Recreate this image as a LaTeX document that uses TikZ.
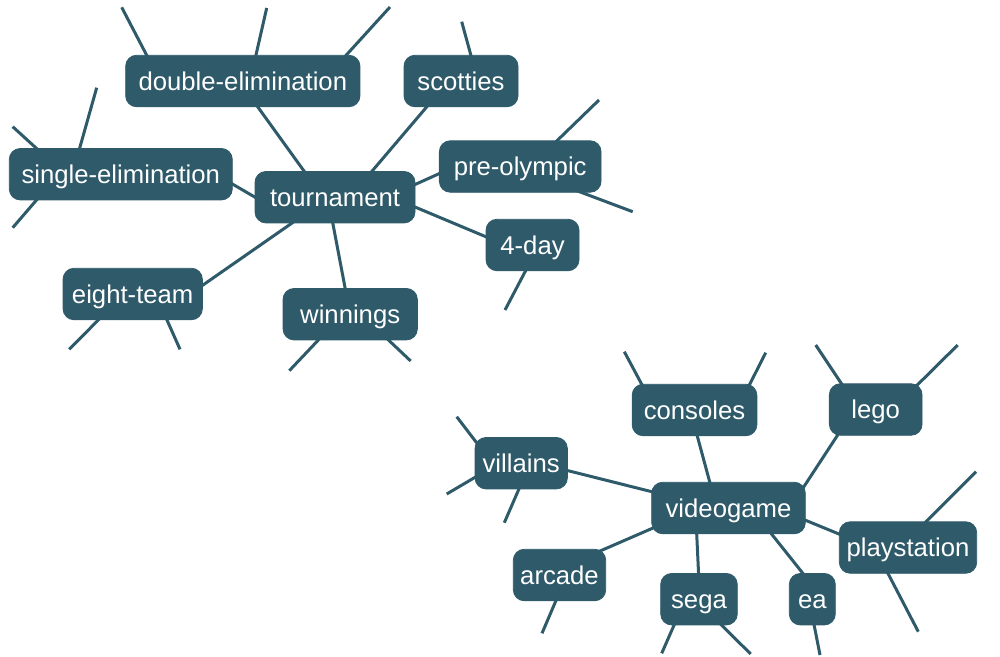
\documentclass[tikz,border=0pt]{standalone}
\usepackage{fontspec}
\setmainfont{Liberation Sans}
\usetikzlibrary{backgrounds}
\definecolor{teal}{RGB}{46,90,106}
\tikzset{
  word/.style={draw=teal, fill=teal, text=white, rounded corners=11pt, line width=0.8pt,
    minimum height=51.5pt, inner sep=0pt, outer sep=0pt, text height=18.4pt, text depth=0pt,
    font=\fontsize{25.7}{30}\selectfont},
  link/.style={draw=teal, line width=3pt, shorten <=-8pt, shorten >=-8pt},
  stub/.style={draw=teal, line width=3pt, shorten <=-8pt}
}
\begin{document}
\begin{tikzpicture}[x=1pt,y=-1pt]
\useasboundingbox (0,0) rectangle (1000,656);
% top cluster
\node[word, minimum width=160pt]   (T)  at (335,197.2) {tournament};
\node[word, minimum width=234.3pt] (DE) at (242.8,81) {double-elimination};
\node[word, minimum width=114pt]   (SC) at (461,81) {scotties};
\node[word, minimum width=223pt]   (SE) at (120.8,174.2) {single-elimination};
\node[word, minimum width=161.7pt] (PO) at (520.2,166.5) {pre-olympic};
\node[word, minimum width=93pt]    (FD) at (532.5,245) {4-day};
\node[word, minimum width=139.3pt] (ET) at (132.7,294) {eight-team};
\node[word, minimum width=134.3pt] (W)  at (350.2,314.2) {winnings};
% bottom cluster
\node[word, minimum width=153.6pt] (VG) at (728.5,508) {videogame};
\node[word, minimum width=124.7pt] (CO) at (694.5,410) {consoles};
\node[word, minimum width=92.7pt]  (LE) at (875.7,409.5) {lego};
\node[word, minimum width=92.3pt]  (VI) at (521.2,463.2) {villains};
\node[word, minimum width=92.4pt]  (AR) at (559.5,575) {arcade};
\node[word, minimum width=76.6pt]  (SG) at (699,599.2) {sega};
\node[word, minimum width=46pt]    (EA) at (812.3,599.2) {ea};
\node[word, minimum width=137.4pt] (PS) at (908,547.5) {playstation};
% free ends
\coordinate (de1) at (121.7,7.3);
\coordinate (de2) at (266.7,8);
\coordinate (de3) at (390,7);
\coordinate (sc1) at (461.7,21.7);
\coordinate (se1) at (12.7,126.7);
\coordinate (se2) at (96.7,87.7);
\coordinate (se3) at (12.7,227.7);
\coordinate (po1) at (599,100);
\coordinate (po2) at (632.7,211.7);
\coordinate (fd1) at (505,310);
\coordinate (et1) at (69.3,349.3);
\coordinate (et2) at (180,349.3);
\coordinate (w1) at (289.3,370.7);
\coordinate (w2) at (410.7,361);
\coordinate (co1) at (624.3,351.7);
\coordinate (co2) at (765.7,352.7);
\coordinate (le1) at (815.7,345);
\coordinate (le2) at (957.7,345);
\coordinate (vi1) at (456.7,416.7);
\coordinate (vi2) at (446.7,494);
\coordinate (vi3) at (504.3,522.7);
\coordinate (ar1) at (542,633.3);
\coordinate (sg1) at (661.7,653.3);
\coordinate (sg2) at (750.7,654);
\coordinate (ea1) at (820,655);
\coordinate (ps1) at (976,471.7);
\coordinate (ps2) at (918.3,631.7);
\begin{scope}[on background layer]
% edges top
\draw[link] (T.140.2) -- (DE.300.3);
\draw[link] (T.35.5) -- (SC.217.2);
\draw[link] (T.180) -- (SE.355.4);
\draw[link] (T.9.7) -- (PO.185.3);
\draw[link] (T.353.1) -- (FD.170.6);
\draw[link] (T.211.8) -- (ET.7.4);
\draw[link] (T.265.6) -- (W.101);
% edges bottom
\draw[link] (VG.126.8) -- (CO.276.1);
\draw[link] (VG.168.6) -- (VI.351.7);
\draw[link] (VG.195.8) -- (AR.30);
\draw[link] (VG.219.6) -- (SG.91.5);
\draw[link] (VG.17.4) -- (LE.214.3);
\draw[link] (VG.351.1) -- (PS.169);
\draw[link] (VG.329) -- (EA.110.5);
% stubs
\draw[stub] (DE.165.3) -- (de1);
\draw[stub] (DE.63.1) -- (de2);
\draw[stub] (DE.14.5) -- (de3);
\draw[stub] (SC.69) -- (sc1);
\draw[stub] (SE.163) -- (se1);
\draw[stub] (SE.148.7) -- (se2);
\draw[stub] (SE.197.1) -- (se3);
\draw[stub] (PO.35.3) -- (po1);
\draw[stub] (PO.337.6) -- (po2);
\draw[stub] (FD.255.8) -- (fd1);
\draw[stub] (ET.217.9) -- (et1);
\draw[stub] (ET.323.4) -- (et2);
\draw[stub] (W.219) -- (w1);
\draw[stub] (W.326.6) -- (w2);
\draw[stub] (CO.154.3) -- (co1);
\draw[stub] (CO.25.5) -- (co2);
\draw[stub] (LE.143.9) -- (le1);
\draw[stub] (LE.31.9) -- (le2);
\draw[stub] (VI.154.2) -- (vi1);
\draw[stub] (VI.197.4) -- (vi2);
\draw[stub] (VI.265.1) -- (vi3);
\draw[stub] (AR.262.2) -- (ar1);
\draw[stub] (SG.226.2) -- (sg1);
\draw[stub] (SG.311.3) -- (sg2);
\draw[stub] (EA.274.4) -- (ea1);
\draw[stub] (PS.55.1) -- (ps1);
\draw[stub] (PS.232.6) -- (ps2);
\end{scope}
\end{tikzpicture}
\end{document}
